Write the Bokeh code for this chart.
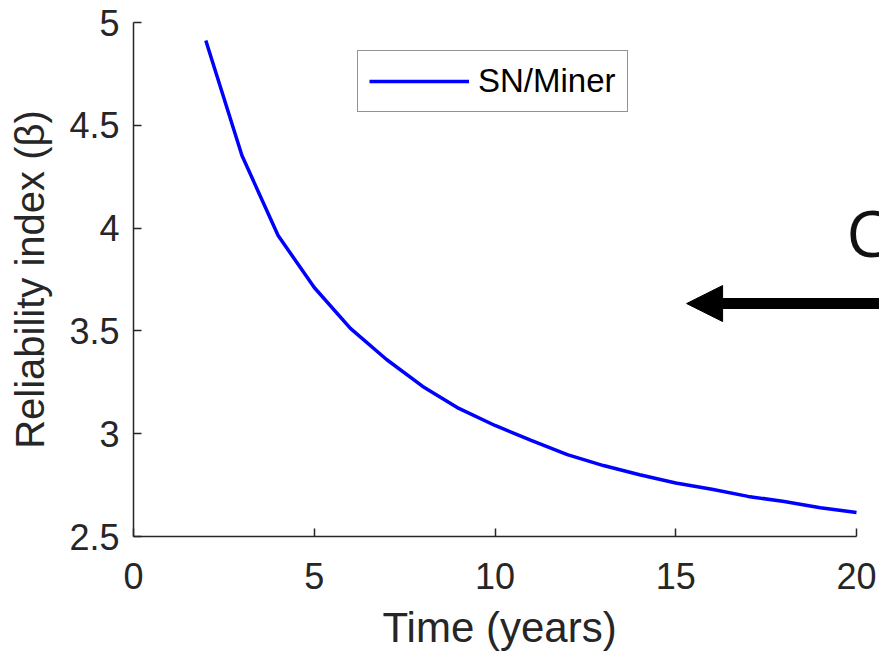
from bokeh.plotting import figure
from bokeh.models import FixedTicker, Legend, LegendItem, Arrow, NormalHead, Label, Range1d, Title
from bokeh.embed import file_html
from bokeh.resources import INLINE

years = [2, 3, 4, 5, 6, 7, 8, 9, 10, 11, 12, 13, 14, 15, 16, 17, 18, 19, 20]
beta = [4.912, 4.353, 3.964, 3.711, 3.512, 3.361, 3.230, 3.123, 3.040, 2.967,
        2.898, 2.845, 2.800, 2.760, 2.730, 2.695, 2.670, 2.640, 2.617]
x_ticks = [0, 5, 10, 15, 20]
y_ticks = [2.5, 3, 3.5, 4, 4.5, 5]
y_tick_labels = ["2.5", "3", "3.5", "4", "4.5", "5"]
series_name = "SN/Miner"
x_label = "Time (years)"
y_label = "Reliability index (β)"

FONT = "Liberation Sans"
AX = "#262626"

p = figure(frame_width=746, frame_height=514, output_backend="svg", toolbar_location=None,
           x_range=Range1d(0, 20.636), y_range=Range1d(2.5, 5),
           min_border_left=133, min_border_right=0, min_border_top=22, min_border_bottom=0)
p.outline_line_color = None
p.grid.visible = False
p.background_fill_color = "white"
p.border_fill_color = "white"

r = p.line(years, beta, line_color="#0000FF", line_width=3.5)

for ax in (p.xaxis[0], p.yaxis[0]):
    ax.axis_line_color = AX
    ax.axis_line_width = 1.5
    ax.major_tick_line_color = AX
    ax.major_tick_line_width = 1.5
    ax.major_tick_in = 8
    ax.major_tick_out = 0
    ax.minor_tick_line_color = None
    ax.major_label_text_font = FONT
    ax.major_label_text_font_size = "36px"
    ax.major_label_text_color = AX
    ax.axis_label_text_font = FONT
    ax.axis_label_text_font_size = "40px"
    ax.axis_label_text_font_style = "normal"
    ax.axis_label_text_color = AX

p.xaxis.ticker = FixedTicker(ticks=x_ticks)
p.xaxis.bounds = (0, 20)
p.xaxis.major_label_standoff = 26

xt = Title(text=x_label, align="left", offset=249, text_font=FONT, text_font_size="42px",
           text_font_style="normal", text_color=AX, standoff=24, vertical_align="top")
p.add_layout(xt, "below")

p.yaxis.ticker = FixedTicker(ticks=y_ticks)
p.yaxis.major_label_overrides = {t: s for t, s in zip(y_ticks, y_tick_labels)}
p.yaxis.major_label_standoff = 14
p.yaxis.axis_label = y_label
p.yaxis.axis_label_standoff = 14

legend = Legend(items=[LegendItem(label=series_name, renderers=[r])],
                location=(224, 424), orientation="vertical")
legend.glyph_width = 100
legend.glyph_height = 30
legend.label_text_font = FONT
legend.label_text_font_size = "33px"
legend.label_text_color = "#000000"
legend.label_standoff = 9
legend.padding = 11
legend.margin = 0
legend.border_line_color = "#262626"
legend.border_line_width = 1.2
legend.background_fill_color = "white"
legend.background_fill_alpha = 1
p.add_layout(legend)

arrow = Arrow(end=NormalHead(size=36, fill_color="black", line_color="black"),
              x_start=21.0, y_start=3.633, x_end=15.30, y_end=3.633,
              line_color="black", line_width=11)
p.add_layout(arrow)

lbl = Label(x=19.72, y=3.981, text="C", text_font="Open Sans", text_font_size="64px",
            text_color="#111111", text_baseline="alphabetic", text_align="left")
p.add_layout(lbl)

open("out.html", "w").write(file_html(p, INLINE))
